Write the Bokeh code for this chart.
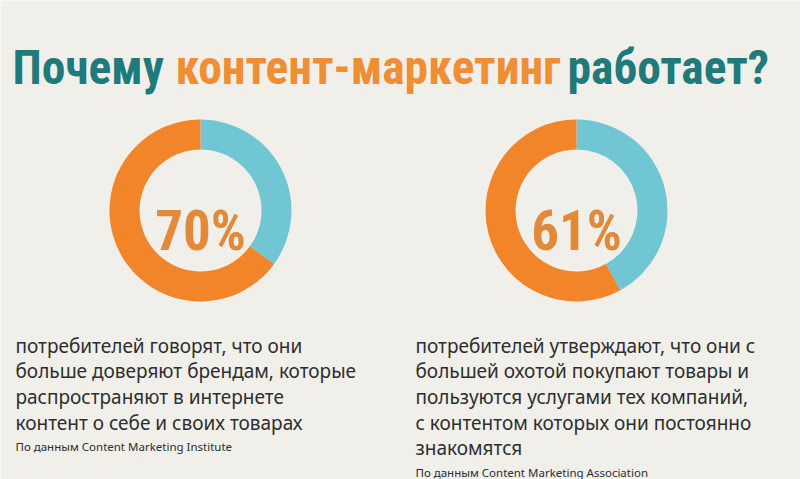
import numpy as np
from bokeh.plotting import figure
from bokeh.models import Range1d
from bokeh.core.properties import value
from bokeh.embed import file_html
from bokeh.resources import INLINE

W, H = 800, 479

# ---- data ----
title_parts = ["Почему", "контент-маркетинг", "работает?"]
pct_labels = ["70%", "61%"]
orange_share = [65, 58]   # arc share drawn in orange
blue_share = [35, 42]     # arc share drawn in blue
captions = [
    ["потребителей говорят, что они",
     "больше доверяют брендам, которые",
     "распространяют в интернете",
     "контент о себе и своих товарах"],
    ["потребителей утверждают, что они с",
     "большей охотой покупают товары и",
     "пользуются услугами тех компаний,",
     "с контентом которых они постоянно",
     "знакомятся"],
]
sources = ["По данным Content Marketing Institute",
           "По данным Content Marketing Association"]

# ---- style ----
BG = "#F0EFEA"
TEAL = "#1E7A7B"
ORANGE_T = "#F08E35"
RING_O = "#F2852A"
RING_B = "#70C6D3"
PCT = "#E3893A"
BODY = "#2E2E2E"
TITLE_FONT = value("Roboto Condensed")
BODY_FONT = value("Noto Sans")

def Y(sy):
    return H - sy

p = figure(width=W, height=H, x_range=Range1d(0, W), y_range=Range1d(0, H),
           output_backend="svg", toolbar_location=None, min_border=0)
p.axis.visible = False
p.grid.visible = False
p.outline_line_color = None
p.background_fill_color = BG
p.border_fill_color = BG

# title
title_x = [12, 175, 567]
title_colors = [TEAL, ORANGE_T, TEAL]
for t, x, c in zip(title_parts, title_x, title_colors):
    p.text(x=[x], y=[Y(67)], text=[t], text_font=TITLE_FONT, text_font_size="47.5px",
           text_font_style="bold", text_color=c, text_align="left",
           text_baseline="alphabetic")

# donuts
centers_x = [200, 576]
cy = Y(210)
for i in range(2):
    total = orange_share[i] + blue_share[i]
    b = blue_share[i] / total
    start = np.pi / 2
    mid = start - 2 * np.pi * b
    p.annular_wedge(x=[centers_x[i]], y=[cy], inner_radius=61, outer_radius=91,
                    start_angle=[start], end_angle=[mid], direction="clock",
                    fill_color=RING_B, line_color=None)
    p.annular_wedge(x=[centers_x[i]], y=[cy], inner_radius=61, outer_radius=91,
                    start_angle=[mid], end_angle=[start - 2 * np.pi], direction="clock",
                    fill_color=RING_O, line_color=None)
    p.text(x=[centers_x[i]], y=[Y(230)], text=[pct_labels[i]], text_font=TITLE_FONT,
           text_font_size="55px", text_font_style="bold", text_color=PCT,
           text_align="center", text_baseline="alphabetic")

# captions
col_x = [15, 415]
for i in range(2):
    for j, line in enumerate(captions[i]):
        p.text(x=[col_x[i]], y=[Y(345 + 25.7 * j)], text=[line], text_font=BODY_FONT,
               text_font_size="19px", text_color=BODY, text_align="left",
               text_baseline="alphabetic")
    n = len(captions[i])
    p.text(x=[col_x[i]], y=[Y(345 + 25.7 * (n - 1) + 24)], text=[sources[i]],
           text_font=BODY_FONT, text_font_size="11.5px", text_color=BODY,
           text_align="left", text_baseline="alphabetic")

open("out.html", "w").write(file_html(p, INLINE))
